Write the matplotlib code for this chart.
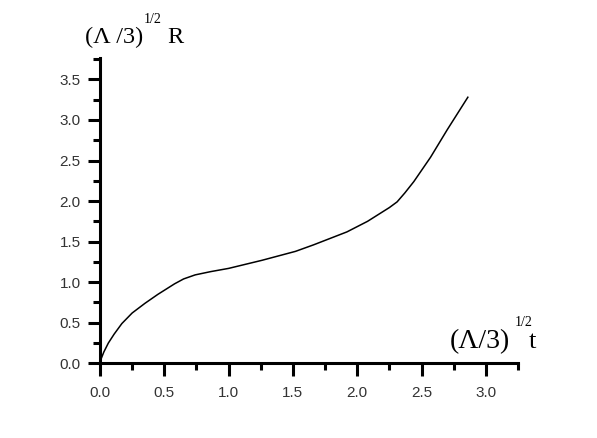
import matplotlib
matplotlib.use("Agg")
import matplotlib.pyplot as plt
import numpy as np
from matplotlib.ticker import MultipleLocator, FormatStrFormatter

# data
t_vals = [0.0, 0.01, 0.03, 0.065, 0.11, 0.17, 0.25, 0.35, 0.45, 0.52, 0.58, 0.65, 0.74,
          0.86, 1.0, 1.26, 1.52, 1.66, 1.92, 2.08, 2.18, 2.25, 2.31, 2.37, 2.44, 2.57,
          2.70, 2.86]
R_vals = [0.0, 0.06, 0.14, 0.25, 0.36, 0.49, 0.62, 0.74, 0.85, 0.92, 0.98, 1.04, 1.09,
          1.13, 1.17, 1.27, 1.38, 1.46, 1.62, 1.75, 1.85, 1.92, 1.99, 2.10, 2.24, 2.54,
          2.88, 3.28]
x_ticks = [0.0, 0.5, 1.0, 1.5, 2.0, 2.5, 3.0]
y_ticks = [0.0, 0.5, 1.0, 1.5, 2.0, 2.5, 3.0, 3.5]

W, H = 597, 438
fig = plt.figure(figsize=(W / 100, H / 100), dpi=100)
ax = fig.add_axes([100 / W, 1 - 363.3 / H, 418 / W, 305 / H])
ax.plot(t_vals, R_vals, color='black', lw=1.1)
ax.set_xlim(0, 3.25)
ax.set_ylim(0, 3.76)
ax.set_xticks(x_ticks)
ax.set_yticks(y_ticks)
ax.xaxis.set_minor_locator(MultipleLocator(0.25))
ax.yaxis.set_minor_locator(MultipleLocator(0.25))
ax.xaxis.set_major_formatter(FormatStrFormatter('%.1f'))
ax.yaxis.set_major_formatter(FormatStrFormatter('%.1f'))
for s in ['top', 'right']:
    ax.spines[s].set_visible(False)
for s in ['left', 'bottom']:
    ax.spines[s].set_linewidth(2.2)
ax.tick_params(which='major', direction='out', length=9, width=2.2, labelsize=11)
ax.tick_params(axis='x', which='major', pad=7)
ax.tick_params(axis='y', which='major', pad=5)
ax.tick_params(which='minor', direction='out', length=5, width=2.2)
for lab in ax.get_xticklabels() + ax.get_yticklabels():
    lab.set_fontfamily('Liberation Sans')
    lab.set_color('#333333')


def ftext(x, y, s, size):
    fig.text(x / W, 1 - y / H, s, fontsize=size, ha='left', va='baseline',
             family='Liberation Serif', color='black')


# y-axis label
ftext(85, 43, '(\u039b /3)', 17.5)
ftext(144, 23, '1/2', 10)
ftext(167, 43, 'R', 17.5)
# x-axis label
ftext(450, 348, '(\u039b/3)', 20)
ftext(515, 326, '1/2', 10)
ftext(529, 348, 't', 19)

fig.savefig('out.png', dpi=100)
